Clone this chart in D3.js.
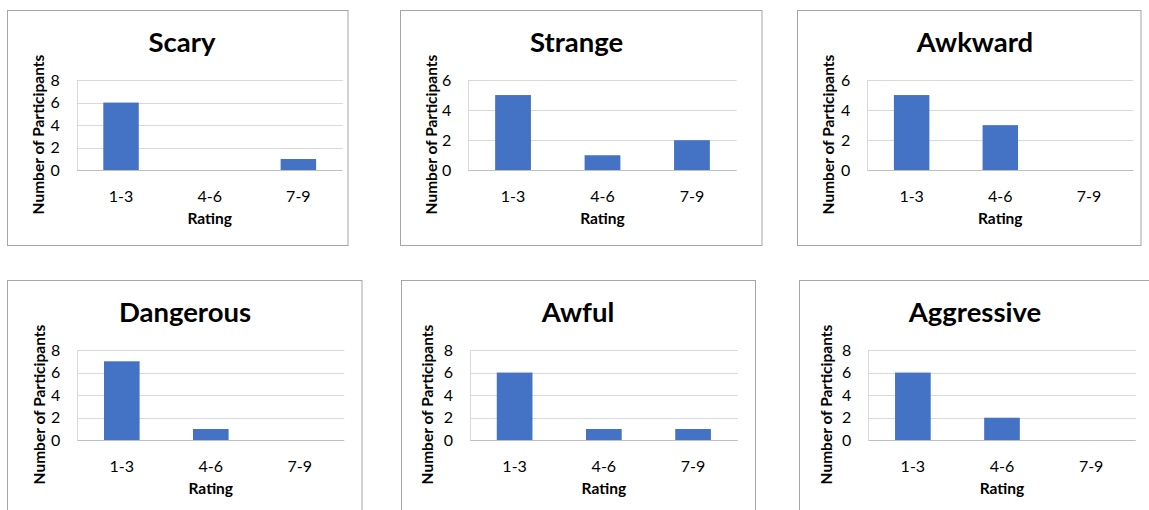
<!DOCTYPE html>
<html>
<head>
<meta charset="utf-8">
<script src="https://cdn.jsdelivr.net/npm/d3@7"></script>
<style>
  html, body { margin: 0; padding: 0; background: #ffffff; }
  svg { display: block; }
  text { font-family: Lato, "Open Sans", sans-serif; fill: #000; }
</style>
</head>
<body>
<svg id="chart" width="1149" height="510"></svg>
<script>
// Rating buckets shared by every chart
const categories = ["1-3", "4-6", "7-9"];

// Number of participants per rating bucket, one array per adjective
const scary      = [6, 0, 1];
const strange    = [5, 1, 2];
const awkward    = [5, 3, 0];
const dangerous  = [7, 1, 0];
const awful      = [6, 1, 1];
const aggressive = [6, 2, 0];

const titles = ["Scary", "Strange", "Awkward", "Dangerous", "Awful", "Aggressive"];
const seriesList = [scary, strange, awkward, dangerous, awful, aggressive];

// Y-axis maxima and tick values per chart
const yMax   = [8, 6, 6, 8, 8, 8];
const yTicks = [[0, 2, 4, 6, 8], [0, 2, 4, 6], [0, 2, 4, 6], [0, 2, 4, 6, 8], [0, 2, 4, 6, 8], [0, 2, 4, 6, 8]];

const xTitle = "Rating";
const yTitle = "Number of Participants";

// Panel frames: outer box and inner plot area
const layout = [
  { box: [7.5, 10.5, 348, 245.5],   plot: [76.7, 342.7, 80, 170.3],  titleX: 182,   yLabX: 39 },
  { box: [400.5, 10.5, 762, 245.5], plot: [468.3, 736.7, 80, 170.3], titleX: 576.7, yLabX: 431.5 },
  { box: [797.5, 10.5, 1141, 245.5],plot: [867.3, 1133.3, 80, 170.3],titleX: 975,   yLabX: 829 },
  { box: [7.5, 280.5, 362, 520],    plot: [77.3, 344.3, 350, 440.3], titleX: 185,   yLabX: 39.5 },
  { box: [401.5, 280.5, 755.5, 520],plot: [470, 737.7, 350, 440.3],  titleX: 578,   yLabX: 428 },
  { box: [799.5, 280.5, 1160, 520], plot: [868.3, 1135.7, 350, 440.3], titleX: 975, yLabX: 826.7 }
];

const svg = d3.select("#chart");
const barColor = "#4472C4";
const labelSize = "16px";
const axisTitleSize = "15.5px";

titles.forEach((title, i) => {
  const L = layout[i];
  const values = seriesList[i];
  const [bx0, by0, bx1, by1] = L.box;
  const [px0, px1, py0, py1] = L.plot;

  const g = svg.append("g");

  // chart frame
  g.append("rect")
    .attr("x", bx0).attr("y", by0)
    .attr("width", bx1 - bx0).attr("height", by1 - by0)
    .attr("fill", "#fff")
    .attr("stroke", "#a6a6a6")
    .attr("stroke-width", 1);

  const x = d3.scaleBand().domain(categories).range([px0, px1]).paddingInner(0.6).paddingOuter(0.3);
  const y = d3.scaleLinear().domain([0, yMax[i]]).range([py1, py0]);

  // horizontal gridlines
  g.append("g")
    .selectAll("line")
    .data(yTicks[i].filter(t => t > 0))
    .join("line")
    .attr("x1", px0).attr("x2", px1)
    .attr("y1", d => Math.round(y(d)) + 0.5).attr("y2", d => Math.round(y(d)) + 0.5)
    .attr("stroke", "#d9d9d9")
    .attr("stroke-width", 1);

  // y axis labels
  const yAxis = d3.axisLeft(y).tickValues(yTicks[i]).tickSize(0).tickPadding(17).tickFormat(d3.format("d"));
  const ya = g.append("g").attr("transform", `translate(${px0},0)`).call(yAxis);
  ya.select(".domain").remove();
  ya.selectAll("text").style("font-size", labelSize).style("font-family", "Lato, sans-serif").attr("fill", "#000");

  // bars
  g.append("g")
    .selectAll("rect")
    .data(values.map((v, k) => ({ cat: categories[k], v })))
    .join("rect")
    .attr("x", d => x(d.cat))
    .attr("y", d => y(d.v))
    .attr("width", x.bandwidth())
    .attr("height", d => y(0) - y(d.v))
    .attr("fill", barColor);

  // x axis baseline and category labels
  const xAxis = d3.axisBottom(x).tickSize(0).tickPadding(20);
  const xa = g.append("g").attr("transform", `translate(0,${Math.round(y(0)) + 0.5})`).call(xAxis);
  xa.select(".domain").attr("stroke", "#bfbfbf").attr("d", `M${px0},0H${px1}`);
  xa.selectAll("text").style("font-size", labelSize).style("font-family", "Lato, sans-serif").attr("fill", "#000");

  // left axis line
  g.append("line")
    .attr("x1", Math.round(px0) + 0.5).attr("x2", Math.round(px0) + 0.5)
    .attr("y1", py0).attr("y2", py1)
    .attr("stroke", "#d9d9d9");

  // chart title
  g.append("text")
    .attr("x", L.titleX).attr("y", by0 + 41)
    .attr("text-anchor", "middle")
    .style("font-size", "27.5px").style("font-weight", "bold")
    .text(title);

  // x axis title
  g.append("text")
    .attr("x", (px0 + px1) / 2).attr("y", by0 + 213)
    .attr("text-anchor", "middle")
    .style("font-size", axisTitleSize).style("font-weight", "bold")
    .text(xTitle);

  // y axis title
  g.append("text")
    .attr("transform", `translate(${L.yLabX + 5},${by0 + 124}) rotate(-90)`)
    .attr("text-anchor", "middle")
    .style("font-size", axisTitleSize).style("font-weight", "bold")
    .text(yTitle);
});
</script>
</body>
</html>
